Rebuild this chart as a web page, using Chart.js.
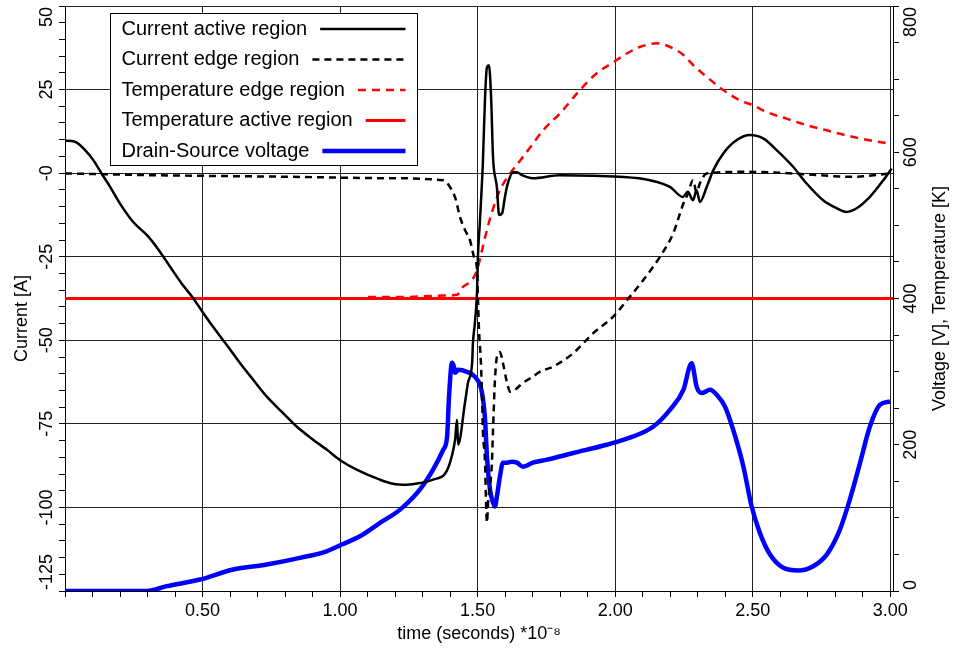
<!DOCTYPE html>
<html>
<head>
<meta charset="utf-8">
<script src="https://cdn.jsdelivr.net/npm/chart.js@4.4.1/dist/chart.umd.min.js"></script>
<style>
  html, body { margin: 0; padding: 0; background: #fff; }
  #wrap { width: 954px; height: 655px; }
</style>
</head>
<body>
<div id="wrap"><canvas id="lineChart"></canvas></div>
<script>
// time in units of 1e-8 s
const activeCurrentT = [0.000, 0.036, 0.073, 0.103, 0.133, 0.164, 0.200, 0.248, 0.303, 0.345, 0.382, 0.424, 0.466, 0.503, 0.551, 0.588, 0.636, 0.684, 0.733, 0.793, 0.842, 0.903, 0.951, 1.006, 1.060, 1.145, 1.192, 1.243, 1.290, 1.338, 1.387, 1.406, 1.418, 1.425, 1.429, 1.454, 1.465, 1.480, 1.483, 1.490, 1.498, 1.501, 1.508, 1.519, 1.527, 1.534, 1.541, 1.549, 1.556, 1.570, 1.578, 1.589, 1.599, 1.610, 1.629, 1.643, 1.661, 1.701, 1.799, 2.017, 2.126, 2.199, 2.246, 2.264, 2.283, 2.296, 2.308, 2.333, 2.357, 2.393, 2.442, 2.490, 2.538, 2.587, 2.647, 2.696, 2.756, 2.805, 2.841, 2.878, 2.926, 2.975, 3.005];
const activeCurrentA = [9.7, 9.4, 6.9, 3.9, -0.1, -4.1, -9.1, -14.6, -19.0, -23.5, -28.0, -33.0, -37.4, -41.9, -47.4, -51.4, -56.8, -61.8, -66.8, -71.8, -75.8, -79.8, -82.7, -86.2, -88.7, -91.7, -92.9, -93.2, -92.7, -91.7, -89.2, -84.7, -79.8, -73.8, -81.2, -68.7, -62.7, -56.8, -50.8, -44.8, -35.0, -25.1, -14.9, 3.0, 22.7, 31.7, 32.3, 22.7, 4.8, -4.2, -12.5, -12.0, -7.2, -3.0, 0.3, 0.3, -0.6, -1.5, -0.6, -1.1, -2.1, -4.1, -7.1, -5.6, -8.1, -5.1, -8.6, -4.1, 0.9, 5.9, 9.9, 11.4, 10.4, 6.9, 1.9, -3.1, -8.1, -10.5, -11.6, -10.5, -7.1, -2.1, 1.4];

const edgeCurrentT = [0.000, 0.309, 0.829, 1.145, 1.374, 1.400, 1.418, 1.436, 1.454, 1.472, 1.487, 1.498, 1.501, 1.505, 1.512, 1.516, 1.519, 1.527, 1.530, 1.534, 1.538, 1.552, 1.556, 1.563, 1.570, 1.581, 1.592, 1.607, 1.618, 1.636, 1.665, 1.701, 1.727, 1.774, 1.847, 1.920, 1.993, 2.054, 2.102, 2.163, 2.211, 2.248, 2.265, 2.283, 2.296, 2.308, 2.333, 2.478, 2.646, 2.865, 2.999];
const edgeCurrentA = [-0.1, -0.6, -1.1, -1.5, -2.1, -4.2, -7.2, -13.1, -17.0, -20.0, -25.1, -29.0, -37.0, -46.9, -56.8, -66.9, -76.8, -86.6, -96.8, -104.5, -98.6, -86.6, -76.8, -61.8, -55.0, -53.5, -56.8, -62.7, -65.4, -64.8, -62.7, -60.9, -59.4, -57.9, -53.9, -47.9, -42.9, -36.9, -32.0, -25.0, -18.0, -9.1, -6.0, -2.1, -5.7, -3.0, -0.1, 0.4, -0.1, -1.1, -0.1];

const edgeTempT = [1.101, 1.218, 1.381, 1.425, 1.447, 1.479, 1.498, 1.516, 1.534, 1.552, 1.581, 1.618, 1.647, 1.690, 1.738, 1.799, 1.872, 1.933, 1.993, 2.042, 2.090, 2.151, 2.211, 2.248, 2.284, 2.333, 2.393, 2.454, 2.502, 2.551, 2.623, 2.696, 2.769, 2.841, 2.914, 2.993];
const edgeTempK = [402, 402, 404, 405, 416, 425, 439, 466, 494, 518, 548, 571, 585, 606, 630, 653, 685, 708, 723, 735, 744, 749, 742, 733, 719, 703, 685, 671, 664, 655, 646, 637, 630, 623, 617, 612];

const activeTempT = [0, 3.01];
const activeTempK = [400, 400];

const voltageT = [0.000, 0.297, 0.370, 0.491, 0.611, 0.733, 0.854, 0.951, 1.006, 1.072, 1.145, 1.218, 1.290, 1.338, 1.375, 1.389, 1.396, 1.407, 1.414, 1.418, 1.429, 1.461, 1.490, 1.516, 1.527, 1.534, 1.545, 1.556, 1.563, 1.570, 1.581, 1.592, 1.607, 1.625, 1.643, 1.665, 1.701, 1.752, 1.848, 1.969, 2.066, 2.139, 2.199, 2.248, 2.278, 2.296, 2.314, 2.345, 2.369, 2.399, 2.429, 2.466, 2.496, 2.526, 2.563, 2.611, 2.666, 2.720, 2.769, 2.817, 2.853, 2.890, 2.926, 2.962, 2.999];
const voltageV = [0, 0, 6.6, 15.7, 29.4, 36.2, 45.3, 54.3, 63.5, 74.8, 93.1, 111.3, 138.6, 165.9, 193.2, 210.9, 265.6, 312.0, 306.5, 298.3, 302.4, 299.7, 292.9, 271.0, 234.2, 183.6, 138.6, 120.8, 115.4, 129.0, 156.3, 175.5, 175.5, 176.8, 175.5, 170.0, 175.5, 179.6, 188.7, 200.0, 211.4, 225.0, 247.8, 275.1, 311.6, 279.6, 270.6, 275.1, 268.3, 252.3, 220.5, 170.4, 115.8, 79.5, 49.8, 31.7, 28.0, 33.9, 49.8, 84.0, 124.9, 175.0, 225.0, 254.6, 259.2];

const seriesLabels = ['Current active region', 'Current edge region', 'Temperature edge region', 'Temperature active region', 'Drain-Source voltage'];
const xTitle = 'time (seconds) *10\u207B\u2078';
const yTitle = 'Current [A]';
const y1Title = 'Voltage [V], Temperature [K]';

const FONT = "'Liberation Sans', Arial, sans-serif";
const zip = (xs, ys) => xs.map((x, i) => ({ x: x, y: ys[i] }));
const onStep = (v, step) => Math.abs(v / step - Math.round(v / step)) < 1e-6;

const xLabel = v => (onStep(v, 0.5) && v > 0.01) ? v.toFixed(2) : '';
const yLabel = v => onStep(v, 25) ? (Math.abs(v) < 1e-9 ? '-0' : String(Math.round(v))) : '';
const y1Label = v => onStep(v, 200) ? String(Math.round(v)) : '';

// rotated tick labels + axis titles reading bottom-to-top
const axisText = {
  id: 'axisText',
  afterDraw(chart) {
    const ctx = chart.ctx, a = chart.chartArea;
    ctx.save();
    ctx.fillStyle = '#000';
    ctx.textAlign = 'center';
    ctx.textBaseline = 'middle';
    ctx.font = '18px ' + FONT;
    [['y', a.left - 18, yLabel], ['y1', a.right + 18, y1Label]].forEach(([id, x, fmt]) => {
      const scale = chart.scales[id];
      scale.ticks.forEach(t => {
        const label = fmt(t.value);
        if (!label) return;
        const half = ctx.measureText(label).width / 2 + 1;
        let py = scale.getPixelForValue(t.value);
        py = Math.min(Math.max(py, a.top + half), a.bottom - half);
        ctx.save();
        ctx.translate(x, py);
        ctx.rotate(-Math.PI / 2);
        ctx.fillText(label, 0, 0);
        ctx.restore();
      });
    });
    const mid = (a.top + a.bottom) / 2;
    [[yTitle, 22, mid + 20], [y1Title, 940, mid]].forEach(([text, x, y]) => {
      ctx.save();
      ctx.translate(x, y);
      ctx.rotate(-Math.PI / 2);
      ctx.fillText(text, 0, 0);
      ctx.restore();
    });
    ctx.restore();
  }
};

// boxed legend inside the plot, line sample right of the text
const legendBox = {
  id: 'legendBox',
  afterDatasetsDraw(chart) {
    const ctx = chart.ctx, a = chart.chartArea;
    const left = a.left + 45.5, top = a.top + 7.5, w = 307, h = 152;
    ctx.save();
    ctx.fillStyle = '#fff';
    ctx.fillRect(left, top, w, h);
    ctx.strokeStyle = '#000';
    ctx.lineWidth = 1;
    ctx.strokeRect(left, top, w, h);
    ctx.font = '20px ' + FONT;
    ctx.textBaseline = 'middle';
    chart.data.datasets.forEach((ds, i) => {
      const y = top + 15.5 + i * 30.5;
      const tx = left + 11;
      ctx.fillStyle = '#000';
      ctx.fillText(ds.label, tx, y);
      const x0 = tx + ctx.measureText(ds.label).width + 13;
      ctx.beginPath();
      ctx.setLineDash(ds.borderDash || []);
      ctx.lineWidth = ds.borderWidth;
      ctx.strokeStyle = ds.borderColor;
      ctx.moveTo(x0, y);
      ctx.lineTo(left + 295, y);
      ctx.stroke();
    });
    ctx.restore();
  }
};

const ctx1 = document.getElementById('lineChart').getContext('2d');
new Chart(ctx1, {
    type: 'line',
    data: {
        datasets: [{
            label: seriesLabels[0],
            data: zip(activeCurrentT, activeCurrentA),
            yAxisID: 'y',
            borderColor: '#000',
            borderWidth: 2.5
        }, {
            label: seriesLabels[1],
            data: zip(edgeCurrentT, edgeCurrentA),
            yAxisID: 'y',
            borderColor: '#000',
            borderWidth: 2.5,
            borderDash: [7, 5]
        }, {
            label: seriesLabels[2],
            data: zip(edgeTempT, edgeTempK),
            yAxisID: 'y1',
            borderColor: '#ff0000',
            borderWidth: 2.5,
            borderDash: [8, 6]
        }, {
            label: seriesLabels[3],
            data: zip(activeTempT, activeTempK),
            yAxisID: 'y1',
            borderColor: '#ff0000',
            borderWidth: 3
        }, {
            label: seriesLabels[4],
            data: zip(voltageT, voltageV),
            yAxisID: 'y1',
            borderColor: '#0000ff',
            borderWidth: 4.5
        }]
    },
    options: {
        responsive: true,
        maintainAspectRatio: false,
        animation: false,
        events: [],
        elements: {
            point: { radius: 0 },
            line: { cubicInterpolationMode: 'monotone', borderJoinStyle: 'round' }
        },
        layout: { padding: { top: 6, left: 0, right: 0, bottom: 0 } },
        plugins: {
            legend: { display: false },
            tooltip: { enabled: false }
        },
        scales: {
            x: {
                type: 'linear',
                position: 'bottom',
                min: 0,
                max: 3.01,
                afterFit: s => { s.height = 64; },
                border: { color: '#000', width: 1 },
                grid: {
                    color: c => onStep(c.tick.value, 0.5) ? '#222' : 'rgba(0,0,0,0)',
                    tickColor: '#000',
                    tickLength: 6
                },
                ticks: {
                    stepSize: 0.1,
                    autoSkip: false,
                    includeBounds: false,
                    maxRotation: 0,
                    padding: 3,
                    color: '#000',
                    font: { family: FONT, size: 18 },
                    callback: v => xLabel(v)
                },
                title: {
                    display: true,
                    text: xTitle,
                    color: '#000',
                    font: { family: FONT, size: 18 },
                    padding: { top: 2, bottom: 10 }
                }
            },
            y: {
                position: 'left',
                min: -125,
                max: 50,
                afterFit: s => { s.width = 65; },
                border: { color: '#000', width: 1 },
                grid: {
                    color: c => onStep(c.tick.value, 25) ? '#222' : 'rgba(0,0,0,0)',
                    tickColor: '#000',
                    tickLength: 6
                },
                ticks: { stepSize: 5, autoSkip: false, display: false }
            },
            y1: {
                position: 'right',
                min: 0,
                max: 800,
                afterFit: s => { s.width = 61; },
                border: { color: '#000', width: 1 },
                grid: {
                    drawOnChartArea: false,
                    tickColor: '#000',
                    tickLength: 6
                },
                ticks: { stepSize: 50, autoSkip: false, display: false }
            }
        }
    },
    plugins: [legendBox, axisText]
});
</script>
</body>
</html>
